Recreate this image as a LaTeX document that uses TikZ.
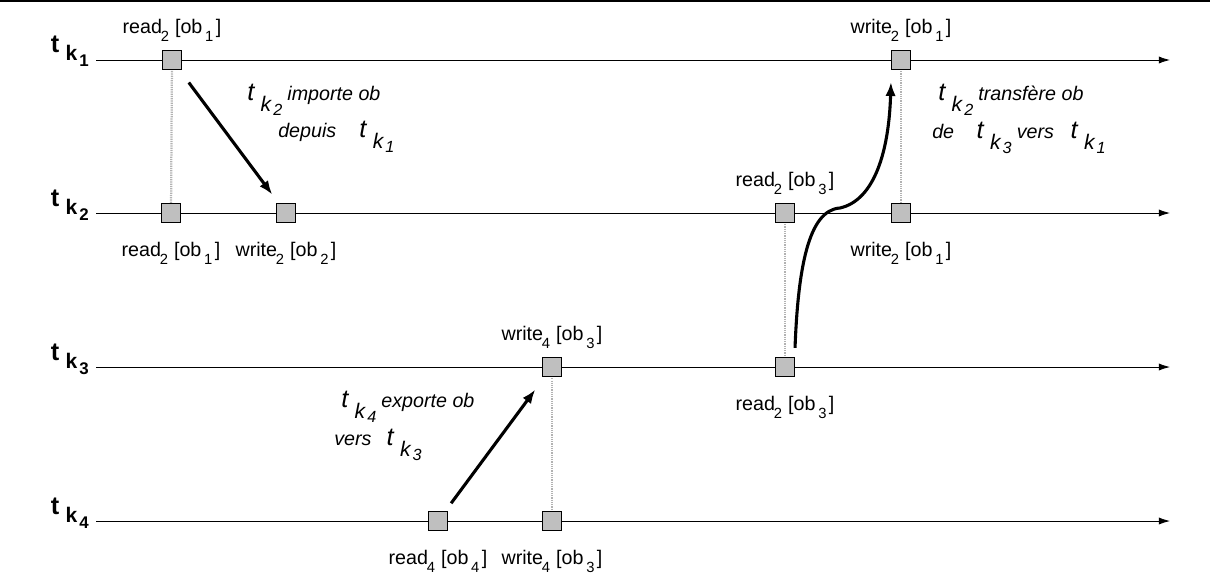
\documentclass[tikz,border=0pt]{standalone}
\usepackage{fontspec}
\newfontfamily\figfont{Liberation Sans}
\usetikzlibrary{arrows.meta,positioning}
\newcommand{\op}[3]{#1\kern-0.3mm\raisebox{-2mm}{\fontsize{10.5}{11}\selectfont #2}\hspace{1.5mm}[ob\hspace{0.7mm}\raisebox{-2mm}{\fontsize{10.5}{11}\selectfont #3}\hspace{0.6mm}]}
\newcommand{\tkb}[1]{{\fontsize{18}{18}\selectfont\bfseries t}\hspace{1.6mm}\raisebox{-2mm}{\fontsize{15}{15}\selectfont\bfseries k}\hspace{0.5mm}\raisebox{-3.5mm}{\fontsize{12}{12}\selectfont\bfseries #1}}
\newcommand{\tki}[1]{{\fontsize{18}{18}\selectfont\itshape t}\hspace{1.6mm}\raisebox{-2.8mm}{\fontsize{15}{15}\selectfont\itshape k}\hspace{0.5mm}\raisebox{-3.8mm}{\fontsize{11.5}{12}\selectfont\itshape #1}}

\begin{document}
\begin{tikzpicture}[x=0.25mm, y=-0.25mm,
			node distance=2mm,
			event/.style={draw, fill=gray!50, line width=0.6pt, minimum size=4.8mm, inner sep=0pt},
			oplabel/.style={inner sep=0pt, font=\figfont\fontsize{14}{16}\selectfont},
			tlabel/.style={inner sep=0pt, anchor=base east, font=\figfont},
			note/.style={inner sep=0pt, anchor=base west, font=\figfont\itshape\fontsize{14}{16}\selectfont},
			timeline/.style={-{Latex[length=2.8mm,width=1.8mm]}, line width=0.6pt},
			link/.style={gray!60, line width=1.6pt, dash pattern=on 0.8pt off 0.8pt},
			move/.style={-{Latex[length=3.5mm,width=2.6mm]}, line width=2.2pt}
			]
			\useasboundingbox (0,0) rectangle (1210,583);
			\draw[line width=0.5mm] (0,1.5) -- (1210,1.5);
			\foreach \i/\y in {1/60,2/213,3/367,4/521}{
				\coordinate (s\i) at (96,\y);
				\coordinate (e\i) at (1170,\y);
				\draw[timeline] (s\i) -- (e\i);
				\node[tlabel] (l\i) at (89,\y-7) {\tkb{\i}};
			}
			\draw[link] (172,60) -- (171,213);
			\draw[link] (901,60) -- (901,213);
			\draw[link] (785,213) -- (785,367);
			\draw[link] (552,367) -- (552,521);
			\node[event] (rd1) at (172,60) {};
			\node[event] (wr1) at (901,60) {};
			\node[event] (rd2a) at (171,213) {};
			\node[event] (wr2a) at (286,213) {};
			\node[event] (rd2b) at (785,213) {};
			\node[event] (wr2b) at (901,213) {};
			\node[event] (wr3) at (552,367) {};
			\node[event] (rd3) at (785,367) {};
			\node[event] (rd4) at (438,521) {};
			\node[event] (wr4) at (552,521) {};
			\node[oplabel, above=of rd1] (rd1l) {\op{read}{2}{1}};
			\node[oplabel, above=of wr1] (wr1l) {\op{write}{2}{1}};
			\node[oplabel, below=4.7mm of rd2a] (rd2al) {\op{read}{2}{1}};
			\node[oplabel, below=4.7mm of wr2a] (wr2al) {\op{write}{2}{2}};
			\node[oplabel, above=of rd2b] (rd2bl) {\op{read}{2}{3}};
			\node[oplabel, below=4.7mm of wr2b] (wr2bl) {\op{write}{2}{1}};
			\node[oplabel, above=of wr3] (wr3l) {\op{write}{4}{3}};
			\node[oplabel, below=4.7mm of rd3] (rd3l) {\op{read}{2}{3}};
			\node[oplabel, below=4.7mm of rd4] (rd4l) {\op{read}{4}{4}};
			\node[oplabel, below=4.7mm of wr4] (wr4l) {\op{write}{4}{3}};
			\node[note] (imp1) at (247,100) {\tki{2}\hspace{1.3mm}importe ob};
			\node[note] (imp2) at (278,137) {depuis\hspace{5.8mm}\tki{1}};
			\node[note] (exp1) at (341,407) {\tki{4}\hspace{1.3mm}exporte ob};
			\node[note] (exp2) at (334,445) {vers\hspace{3.8mm}\tki{3}};
			\node[note] (tra1) at (938,100) {\tki{2}\hspace{1.3mm}transfère ob};
			\node[note] (tra2) at (932,138) {de\hspace{5.6mm}\tki{3}\hspace{1.3mm}vers\hspace{4.2mm}\tki{1}};
			\coordinate (bend) at (840,208);
			\draw[move, shorten <=3.9mm, shorten >=2.6mm] (rd1) -- (wr2a);
			\draw[move, shorten <=2.4mm, shorten >=3.9mm] (rd4) -- (wr3);
			\draw[move] ([yshift=2.3mm]rd3.north east) .. controls +(3,-78) and +(-32,2) .. (bend) .. controls +(35,-8) and +(-2,68) .. ([yshift=-3mm]wr1.south west);
		\end{tikzpicture}
\end{document}
